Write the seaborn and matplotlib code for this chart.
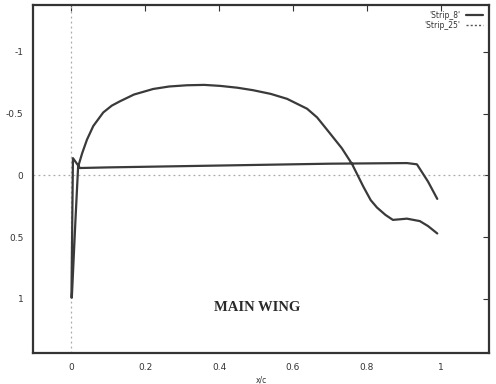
import matplotlib
matplotlib.use("Agg")
import matplotlib.pyplot as plt
import seaborn as sns
import pandas as pd

sns.set_style("white")
plt.rcParams["font.family"] = ["DejaVu Sans"]
plt.rcParams["axes.unicode_minus"] = False

# Pressure distribution along the strip, traced from the lower-surface trailing
# edge forward to the leading edge, then back along the upper surface.
x_lower = [0.99, 0.965, 0.935, 0.908, 0.7, 0.5, 0.3, 0.1, 0.024, 0.005, 0.001]
cp_lower = [0.19, 0.05, -0.09, -0.10, -0.095, -0.085, -0.075, -0.065, -0.06, -0.14, 0.99]

x_upper = [0.002, 0.012, 0.019, 0.03, 0.043, 0.06, 0.087, 0.11, 0.132, 0.17,
           0.222, 0.265, 0.313, 0.36, 0.403, 0.45, 0.492, 0.54, 0.584, 0.638,
           0.665, 0.692, 0.732, 0.76, 0.79, 0.81, 0.827, 0.85, 0.87, 0.89,
           0.908, 0.943, 0.965, 0.99]
cp_upper = [0.99, 0.35, -0.07, -0.18, -0.29, -0.40, -0.51, -0.565, -0.60, -0.655,
            -0.70, -0.72, -0.73, -0.733, -0.725, -0.71, -0.69, -0.66, -0.62, -0.54,
            -0.47, -0.37, -0.22, -0.09, 0.09, 0.20, 0.26, 0.32, 0.36, 0.355,
            0.35, 0.37, 0.41, 0.47]

x_ticks = [0, 0.2, 0.4, 0.6, 0.8, 1]
y_ticks = [-1, -0.5, 0, 0.5, 1]
y_tick_labels = ["-1", "-0.5", "0", "0.5", "1"]

strip8 = pd.DataFrame({
    "x/c": x_lower + x_upper,
    "Cp": cp_lower + cp_upper,
})

fig = plt.figure(figsize=(4.96, 3.84), dpi=100)
ax = fig.add_axes([0.0665, 0.081, 0.9195, 0.906])

# zero axes (dotted, light)
ax.axhline(0, color="#aaaaaa", lw=0.9, ls=(0, (1.5, 2.5)), zorder=1)
ax.axvline(0, color="#aaaaaa", lw=0.9, ls=(0, (1.5, 2.5)), zorder=1)

sns.lineplot(data=strip8, x="x/c", y="Cp", sort=False, estimator=None,
             color="#3a3a3a", lw=1.6, ax=ax, label="'Strip_8'", zorder=3)
ax.plot([], [], color="#555555", lw=1.0, ls=(0, (1.5, 1.5)), label="'Strip_25'")

ax.set_xlim(-0.103, 1.13)
ax.set_ylim(1.437, -1.38)
ax.set_xticks(x_ticks)
ax.set_xticklabels([f"{t:g}" for t in x_ticks])
ax.set_yticks(y_ticks)
ax.set_yticklabels(y_tick_labels)
ax.tick_params(direction="in", length=4, width=0.8, top=True, right=True,
               labelsize=6.5, colors="#333333", pad=7)
ax.set_xlabel("x/c", fontsize=5.5, color="#333333", labelpad=3)
ax.set_ylabel("")

for s in ax.spines.values():
    s.set_linewidth(1.6)
    s.set_color("#333333")

leg = ax.legend(loc="upper right", frameon=False, fontsize=5.5,
                markerfirst=False, handlelength=2.2, handletextpad=0.8,
                borderaxespad=0.4, labelspacing=0.1)
for t in leg.get_texts():
    t.set_color("#333333")

ax.text(0.491, 0.13, "MAIN WING", transform=ax.transAxes, ha="center", va="center",
        fontsize=10.5, fontweight="bold", family="Liberation Serif", color="#2a2a2a")

fig.savefig("out.png", dpi=100)
